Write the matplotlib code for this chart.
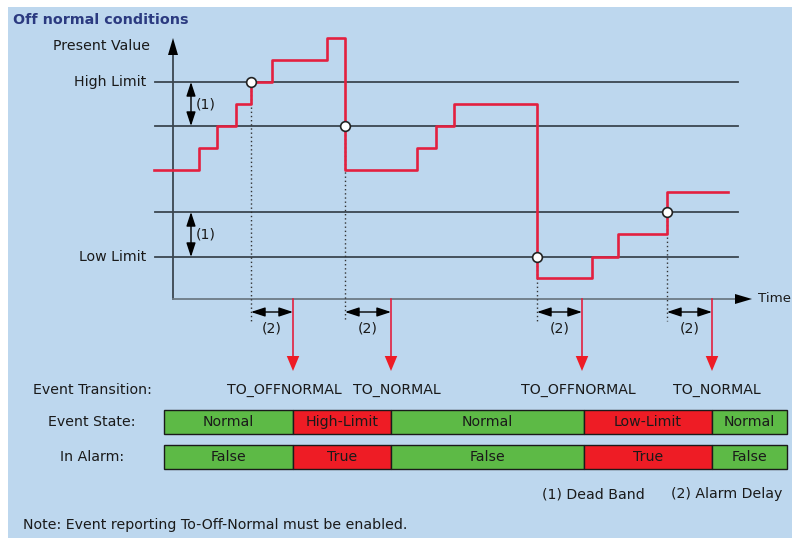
#!/usr/bin/env python3

import matplotlib.pyplot as plt
from matplotlib.patches import Rectangle

# horizontal reference levels (y in picture units, top = 0)
high_limit = 82
high_band = 126
low_band = 212
low_limit = 257

# present value, stepwise
pv_x = [154, 199, 217, 236, 251, 272, 327, 345, 417, 436, 454, 537, 592, 618, 667, 728]
pv_y = [170, 148, 126, 104, 82, 60, 38, 170, 148, 126, 104, 278, 257, 234, 192, 192]

# crossing points
cross_x = [251, 345, 537, 667]
cross_y = [high_limit, high_band, low_limit, low_band]

# transitions after the alarm delay
trans_x = [293, 391, 582, 712]
trans_labels = ['TO_OFFNORMAL', 'TO_NORMAL', 'TO_OFFNORMAL', 'TO_NORMAL']
trans_label_x = [284, 397, 578, 717]

# state bars
seg_edges = [164, 293, 391, 584, 712, 787]
state_labels = ['Normal', 'High-Limit', 'Normal', 'Low-Limit', 'Normal']
alarm_labels = ['False', 'True', 'False', 'True', 'False']
seg_alarm = [False, True, False, True, False]

BG = '#bdd7ee'
GREEN = '#5dba46'
RED = '#ee1c25'
LINE = '#3b4650'
PV = '#e3203f'
TXT = '#1a1a1a'
FS = 10.2

AXIS_HEAD = '-|>,head_length=0.68,head_width=0.2'
SMALL_HEADS = '<|-|>,head_length=0.85,head_width=0.28'
RED_HEAD = '-|>,head_length=0.6,head_width=0.25'


def main():
    fig = plt.figure(figsize=(7.92, 5.38), dpi=100)
    ax = fig.add_axes([0, 0, 1, 1])
    ax.set_xlim(0, 792)
    ax.set_ylim(538, 0)
    ax.axis('off')

    ax.add_patch(Rectangle((8, 7), 784, 531, facecolor=BG, edgecolor='none'))

    ax.text(13, 20, 'Off normal conditions', fontsize=10.3, fontweight='bold',
            color='#2b3a80', va='center', ha='left')

    # limit lines
    for y in [high_limit, high_band, low_band, low_limit]:
        ax.plot([155, 738], [y, y], color=LINE, lw=1.3)

    # axes with arrows
    ax.plot([173, 173], [50, 299], color=LINE, lw=1.3)
    ax.plot([173, 740], [299, 299], color='#6d7a85', lw=1.3)
    ax.annotate('', xy=(173, 38), xytext=(173, 58),
                arrowprops=dict(arrowstyle=AXIS_HEAD, color='black', lw=0, mutation_scale=18,
                                shrinkA=0, shrinkB=0))
    ax.annotate('', xy=(752, 299), xytext=(732, 299),
                arrowprops=dict(arrowstyle=AXIS_HEAD, color='black', lw=0, mutation_scale=18,
                                shrinkA=0, shrinkB=0))
    ax.text(758, 298, 'Time', fontsize=9.6, va='center', ha='left', color=TXT)

    ax.text(150, 46, 'Present Value', fontsize=FS, va='center', ha='right', color=TXT)
    ax.text(146, high_limit, 'High Limit', fontsize=FS, va='center', ha='right', color=TXT)
    ax.text(146, low_limit, 'Low Limit', fontsize=FS, va='center', ha='right', color=TXT)

    # dead band arrows
    for y0, y1 in [(high_limit, high_band), (low_band, low_limit)]:
        ax.annotate('', xy=(191, y0), xytext=(191, y1),
                    arrowprops=dict(arrowstyle=SMALL_HEADS, color='black', lw=1, mutation_scale=10,
                                    shrinkA=0, shrinkB=0))
        ax.text(196, (y0 + y1) / 2, '(1)', fontsize=FS, va='center', ha='left', color=TXT)

    # dotted drop lines
    for x, y in zip(cross_x, cross_y):
        ax.plot([x, x], [y, 321], color='#333333', lw=1, ls=(0, (1, 2)))

    # present value
    ax.plot(pv_x, pv_y, drawstyle='steps-post', color=PV, lw=1.9, zorder=3)
    ax.plot(cross_x, cross_y, 'o', ms=7, mfc='white', mec='#222222', mew=1.2, zorder=4)

    # alarm delay arrows and transitions
    for x0, x1 in zip(cross_x, trans_x):
        ax.annotate('', xy=(x0, 312), xytext=(x1, 312),
                    arrowprops=dict(arrowstyle=SMALL_HEADS, color='black', lw=1, mutation_scale=10,
                                    shrinkA=0, shrinkB=0))
        ax.text((x0 + x1) / 2, 328, '(2)', fontsize=FS, va='center', ha='center', color=TXT)
        ax.plot([x1, x1], [299, 358], color=PV, lw=1.2)
        ax.annotate('', xy=(x1, 371), xytext=(x1, 352),
                    arrowprops=dict(arrowstyle=RED_HEAD, color=RED, lw=0, mutation_scale=18,
                                    shrinkA=0, shrinkB=0))

    ax.text(92, 390, 'Event Transition:', fontsize=FS, va='center', ha='center', color=TXT)
    for x, lab in zip(trans_label_x, trans_labels):
        ax.text(x, 390, lab, fontsize=FS, va='center', ha='center', color=TXT)

    # state rows
    ax.text(92, 422, 'Event State:', fontsize=FS, va='center', ha='center', color=TXT)
    ax.text(92, 457, 'In Alarm:', fontsize=FS, va='center', ha='center', color=TXT)
    for i in range(len(state_labels)):
        x0, x1 = seg_edges[i], seg_edges[i + 1]
        col = RED if seg_alarm[i] else GREEN
        ax.add_patch(Rectangle((x0, 410), x1 - x0, 24, facecolor=col, edgecolor='#1a1a1a', lw=1))
        ax.add_patch(Rectangle((x0, 445), x1 - x0, 24, facecolor=col, edgecolor='#1a1a1a', lw=1))
        ax.text((x0 + x1) / 2, 422, state_labels[i], fontsize=FS, va='center', ha='center', color=TXT)
        ax.text((x0 + x1) / 2, 457, alarm_labels[i], fontsize=FS, va='center', ha='center', color=TXT)

    ax.text(593, 494, '(1) Dead Band', fontsize=FS, va='center', ha='center', color=TXT)
    ax.text(727, 494, '(2) Alarm Delay', fontsize=FS, va='center', ha='center', color=TXT)

    ax.text(23, 525, 'Note: Event reporting To-Off-Normal must be enabled.',
            fontsize=FS, va='center', ha='left', color=TXT)

    fig.savefig('out.png', dpi=100)


if __name__ == '__main__':
    main()
